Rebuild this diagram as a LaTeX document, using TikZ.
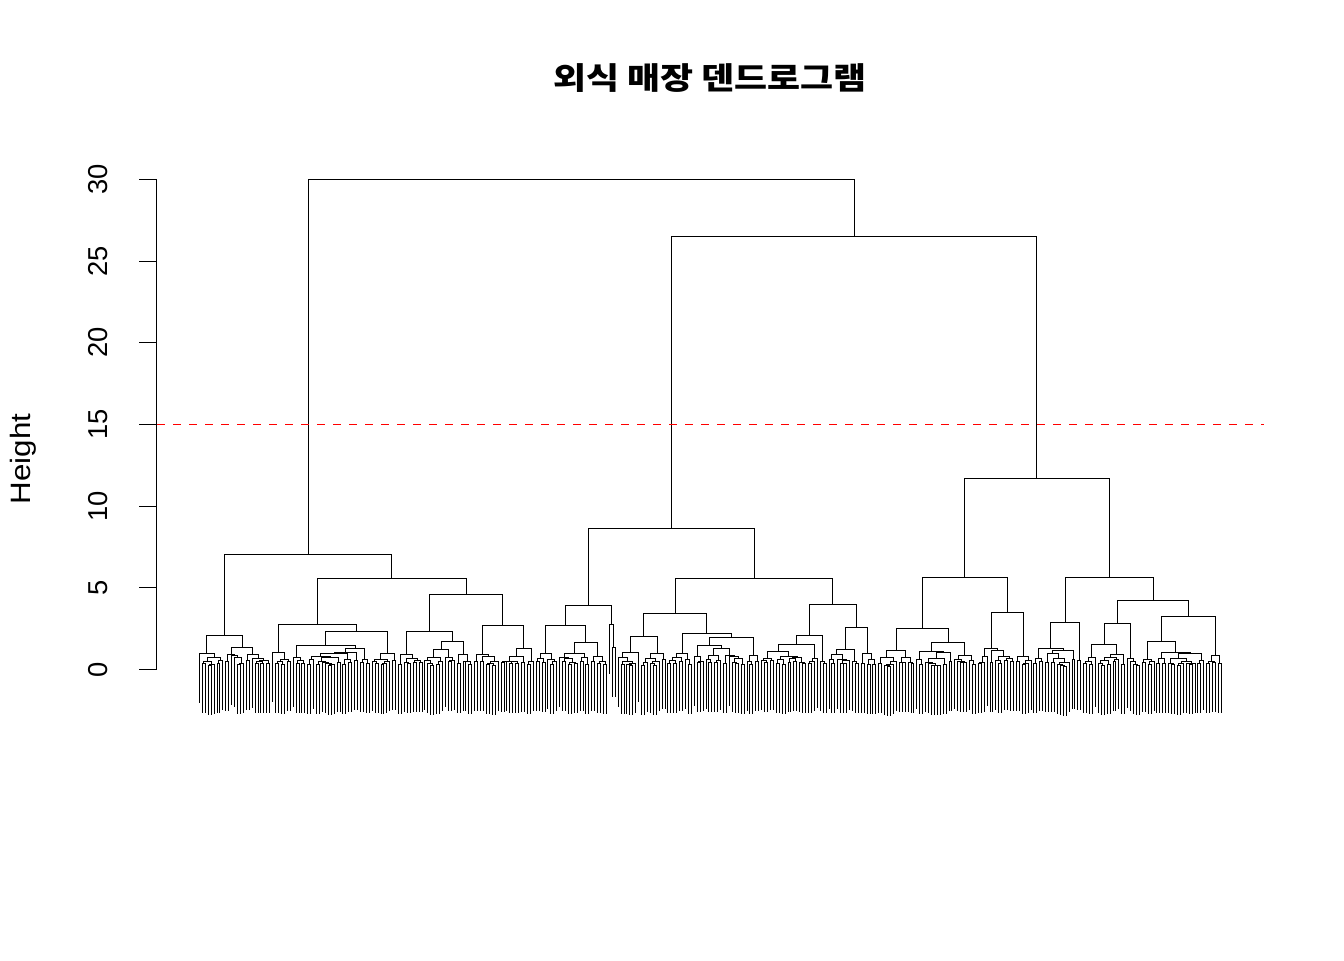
\documentclass[tikz,border=0pt]{standalone}
\usepackage{fontspec}
\setmainfont{Liberation Sans}
\newfontfamily\krfont{Noto Sans CJK KR}[FakeStretch=1.17]
\newfontfamily\widefont{Liberation Sans}[FakeStretch=1.12]
\pgfmathsetseed{4242}
% draw one merge: lx lh rx rh h   (lh/rh = -99 means leaf); snapped to pixel centres
\newcommand\dconnect[5]{%
  \begingroup
  \ifdim#2pt<-50pt \pgfmathsetmacro\dcl{#5-3}\else\edef\dcl{#2}\fi
  \ifdim#4pt<-50pt \pgfmathsetmacro\dcr{#5-3}\else\edef\dcr{#4}\fi
  \pgfmathsetmacro\dyl{round(669-16.333*(\dcl))+0.5}%
  \pgfmathsetmacro\dyr{round(669-16.333*(\dcr))+0.5}%
  \pgfmathsetmacro\dyt{round(669-16.333*(#5))+0.5}%
  \pgfmathsetmacro\dxl{round(#1)+0.5}%
  \pgfmathsetmacro\dxr{round(#3)+0.5}%
  \draw[dl] (\dxl,\dyl) -- (\dxl,\dyt) -- (\dxr,\dyt) -- (\dxr,\dyr);
  \endgroup}
% subtree over leaves a..b, given height (or -1), parent height
\newcommand\dtree[4]{%
  \ifnum#1=#2\relax
    \pgfmathsetmacro\dtx{199+(#1-1)*2.928}%
    \xdef\gX{\dtx}\gdef\gH{-99}%
  \else
    \begingroup
      \ifdim#3pt<0pt
        \pgfmathsetmacro\dth{min((#4)*(0.6+0.35*rnd), 0.1+0.35*rnd+0.18*(#2-#1)^0.7)}%
      \else
        \edef\dth{#3}%
      \fi
      \pgfmathtruncatemacro\dtm{#1+floor((#2-#1)*(0.1+0.8*rnd))}%
      \pgfmathtruncatemacro\dtn{\dtm+1}%
      \edef\dtnext{\noexpand\dtree{#1}{\dtm}{-1}{\dth}}\dtnext
      \let\dtlx\gX \let\dtlh\gH
      \edef\dtnext{\noexpand\dtree{\dtn}{#2}{-1}{\dth}}\dtnext
      \let\dtrx\gX \let\dtrh\gH
      \edef\dtnext{\noexpand\dconnect{\dtlx}{\dtlh}{\dtrx}{\dtrh}{\dth}}\dtnext
      \pgfmathsetmacro\dtcx{(\dtlx+\dtrx)/2}%
      \xdef\gX{\dtcx}\xdef\gH{\dth}%
    \endgroup
  \fi}
\newcommand\dsave[1]{\expandafter\xdef\csname dX#1\endcsname{\gX}\expandafter\xdef\csname dH#1\endcsname{\gH}}
\newcommand\djoin[4]{%
  \edef\dtnext{\noexpand\dconnect{\csname dX#1\endcsname}{\csname dH#1\endcsname}{\csname dX#2\endcsname}{\csname dH#2\endcsname}{#3}}\dtnext
  \pgfmathsetmacro\djx{(\csname dX#1\endcsname+\csname dX#2\endcsname)/2}%
  \expandafter\xdef\csname dX#4\endcsname{\djx}\expandafter\xdef\csname dH#4\endcsname{#3}}
\begin{document}
\begin{tikzpicture}[x=0.75pt,y=-0.75pt,
  dl/.style={line width=1.25pt, line join=miter},
  ax/.style={line width=1.25pt},
  tick/.style={inner sep=0pt, font=\fontsize{20.5pt}{24pt}\selectfont},
  cut/.style={red, line width=1.25pt, dash pattern=on 6pt off 6pt}]
\fill[white] (0,0) rectangle (1344,960);
\useasboundingbox (0,0) rectangle (1344,960);
% title and axis label
\node[inner sep=0pt, font=\krfont\bfseries\fontsize{23pt}{27pt}\selectfont] (title) at (710,78) {외식 매장 덴드로그램};
\node[inner sep=0pt, rotate=90, font=\widefont\fontsize{21pt}{25pt}\selectfont] (ylab) at (23.5,459) {Height};
% y axis
\draw[ax] (156.5,179.5) -- (156.5,669.5);
\foreach \v in {0,5,10,15,20,25,30} {
  \pgfmathsetmacro\ty{round(669-16.333*\v)+0.5}
  \draw[ax] (139,\ty) -- (156.5,\ty);
  \node[tick, rotate=90] (tk\v) at (98.5,\ty) {\v};
}
% ---- left cluster
\dtree{1}{25}{2.08}{99}\dsave{La}
\dtree{26}{68}{2.76}{99}\dsave{Lba}
\dtree{69}{94}{2.33}{99}\dsave{Lbba}
\dtree{95}{115}{2.69}{99}\dsave{Lbbb}
\djoin{Lbba}{Lbbb}{4.59}{Lbb}
\djoin{Lba}{Lbb}{5.57}{Lb}
\djoin{La}{Lb}{7.04}{L}
% ---- middle cluster
\dtree{116}{140}{2.69}{99}\dsave{Maa}
\dtree{141}{141}{-1}{99}\dsave{Mabx}
\dtree{142}{143}{1.35}{99}\dsave{Maby}
\djoin{Mabx}{Maby}{2.76}{Mab}
\djoin{Maa}{Mab}{3.92}{Ma}
\dtree{144}{160}{2.02}{99}\dsave{Mbaa}
\dtree{161}{192}{2.2}{99}\dsave{Mbab}
\djoin{Mbaa}{Mbab}{3.43}{Mba}
\dtree{193}{215}{2.08}{99}\dsave{Mbba}
\dtree{216}{232}{2.57}{99}\dsave{Mbbb}
\djoin{Mbba}{Mbbb}{3.98}{Mbb}
\djoin{Mba}{Mbb}{5.57}{Mb}
\djoin{Ma}{Mb}{8.63}{M}
% ---- right cluster
\dtree{233}{266}{2.51}{99}\dsave{Raa}
\dtree{267}{285}{3.49}{99}\dsave{Rab}
\djoin{Raa}{Rab}{5.63}{Ra}
\dtree{286}{302}{2.88}{99}\dsave{Rba}
\dtree{303}{322}{2.82}{99}\dsave{Rbba}
\dtree{323}{350}{3.25}{99}\dsave{Rbbb}
\djoin{Rbba}{Rbbb}{4.22}{Rbb}
\djoin{Rba}{Rbb}{5.63}{Rb}
\djoin{Ra}{Rb}{11.7}{R}
\djoin{M}{R}{26.5}{MR}
\djoin{L}{MR}{30}{Top}
% cut line
\draw[cut] (157,424.5) -- (1264,424.5);
\end{tikzpicture}
\end{document}
